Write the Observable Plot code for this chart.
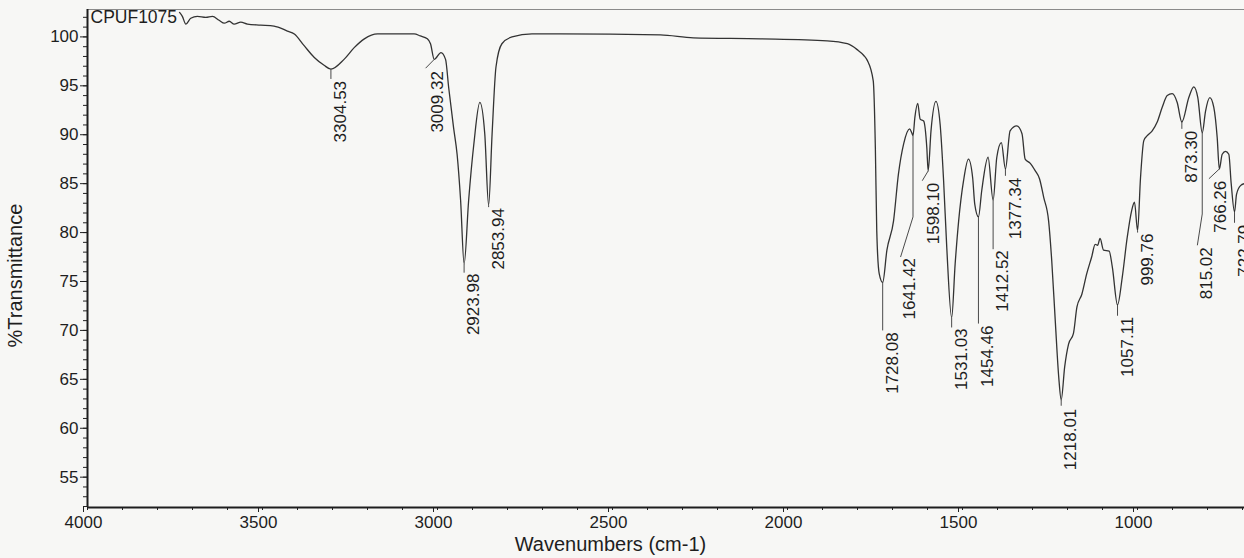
<!DOCTYPE html>
<html><head><meta charset="utf-8">
<script src="https://cdn.jsdelivr.net/npm/d3@7"></script>
<script src="https://cdn.jsdelivr.net/npm/@observablehq/plot@0.6"></script>
<style>
html,body{margin:0;padding:0;background:#f7f7f5;overflow:hidden;}
#chart svg{display:block;overflow:hidden;}
</style></head><body><div id="chart"></div>
<script>
// Spectrum trace: wavenumber (cm-1) and %Transmittance
const wavenumbers = [3737,3729,3719,3705,3686,3662,3643,3624,3609,3595,3581,3562,3543,3505,3467,3429,3409,3381,3352,3324,3304.53,3267,3238,3209,3171,3124,3067,3049,3029,3020,3009.32,2990,2977,2968,2954,2944,2934,2923.98,2911,2896,2879,2865,2853.94,2844,2833,2816,2787,2730,2649,2363,2269,2077,1887,1829,1801,1782,1772,1755,1749,1745,1738,1728.08,1716,1697,1683,1668,1651,1645,1641.42,1636,1628,1621,1611,1602,1598.10,1590,1576,1564,1554,1545,1531.03,1521,1511,1497,1483,1471,1465,1454.46,1445,1427,1412.52,1402,1389,1377.34,1364,1345,1330,1321,1307,1292,1280,1268,1254,1245,1235,1225,1218.01,1208,1197,1183,1173,1159,1145,1131,1121,1114,1107,1097,1081,1072,1057.11,1043.7,1029.4,1017,1008.6,999.76,991.4,982,972.3,958,943.7,929.4,915.1,900.9,886.6,873.30,853.4,839.1,827.7,815.02,805.7,793.4,782,772.3,766.26,758,748.6,739.1,732.3,722.79,717.1,705.7,694.3];
const transmittance = [102.5,102.1,101.3,101.9,102.1,102.0,102.1,101.7,101.4,101.6,101.3,101.5,101.3,101.2,101.1,100.6,100.3,99.1,97.9,97.1,96.7,97.7,98.9,99.8,100.3,100.3,100.3,100.1,99.8,99.3,97.7,98.4,97.7,94.8,90.7,88.0,83.3,76.8,83.3,89.1,93.3,90.1,82.8,90.1,96.9,99.3,100.0,100.3,100.3,100.2,99.9,99.8,99.6,99.3,98.7,98.1,97.6,95.5,88.7,80.2,75.8,74.9,78.2,81.2,86.0,89.1,90.6,90.2,89.9,91.8,93.2,91.6,91.4,88.7,86.3,90.4,93.4,91.1,85.3,78.5,71.3,76.8,81.2,85.3,87.5,85.6,82.9,81.6,84.3,87.7,83.3,87.7,89.2,86.5,90.4,90.9,90.1,87.5,87.1,86.3,85.5,83.6,81.2,77.1,71.0,65.2,62.9,66.3,68.6,69.7,72.4,73.7,75.8,77.5,78.8,78.7,79.4,78.2,78.1,76.5,72.6,75.4,79.5,82.2,83.1,80.2,85.6,89.4,89.9,90.4,91.3,92.8,94.0,94.2,93.3,91.3,93.8,94.9,93.8,90.2,92.4,93.8,92.8,89.7,86.5,88.0,88.3,88.0,85.0,82.1,83.9,84.8,85.0];

// Peak annotations
const peakLabels = ["3304.53","3009.32","2923.98","2853.94","1728.08","1641.42","1598.10","1531.03","1454.46","1412.52","1377.34","1218.01","1057.11","999.76","873.30","815.02","766.26","722.79"];
const peakWn     = [3304.53,3009.32,2923.98,2853.94,1728.08,1641.42,1598.10,1531.03,1454.46,1412.52,1377.34,1218.01,1057.11,999.76,873.30,815.02,766.26,722.79];
const peakT      = [96.7,97.7,76.8,82.8,74.9,89.9,86.3,71.3,81.6,83.3,86.5,62.9,72.6,80.2,91.3,90.2,86.5,82.1];
const bendT      = [95.7,97.7,75.9,82.6,70.0,81.6,86.3,70.3,70.7,78.3,85.8,62.3,71.5,80.0,90.6,81.9,86.5,81.0];
const endWn      = [3304.53,3034,2923.98,2853.94,1728.08,1677,1615,1531.03,1454.46,1412.52,1377.34,1218.01,1057.11,999.76,873.30,829,796,722.79];
const endT       = [95.7,96.8,75.9,82.6,70.0,77.5,85.3,70.3,70.7,78.3,85.8,62.3,71.5,80.0,90.6,78.7,85.5,81.0];
const textWn     = [3295,3020,2915,2845,1719,1669,1601,1522,1446,1404,1368,1209,1048,991,865,822,783,714];
const textT      = [95.5,96.5,75.8,82.5,69.8,77.4,85.1,70.2,70.5,78.2,85.6,62.0,71.4,79.9,90.4,78.5,85.3,80.8];

const yMajor = [55,60,65,70,75,80,85,90,95,100];
const xMajor = [4000,3500,3000,2500,2000,1500,1000];

const spectrum = wavenumbers.map((w, i) => ({w, t: transmittance[i]}));
const peaks = peakLabels.map((label, i) => ({label, w: peakWn[i], t: peakT[i], bt: bendT[i], ew: endWn[i], et: endT[i], tw: textWn[i], tt: textT[i]}));
const segs = peaks.flatMap(p => [
  {x1: p.w, y1: p.t, x2: p.w, y2: p.bt},
  {x1: p.w, y1: p.bt, x2: p.ew, y2: p.et}
]);

const yMin = 51.9, yMax = 102.8;
const font = "Liberation Sans, Arial, sans-serif";

const chart = Plot.plot({
  width: 1244, height: 558,
  marginLeft: 87, marginRight: 0, marginTop: 9, marginBottom: 51,
  style: {background: "transparent", fontFamily: font, fontSize: "17px", color: "#1e1e1e"},
  x: {domain: [4000, 694.3], axis: null},
  y: {domain: [yMin, yMax], axis: null},
  marks: [
    Plot.ruleY([yMax], {stroke: "#8a8a8a", strokeWidth: 1}),
    Plot.axisY({ticks: d3.range(52, 103, 1), tickSize: 4, tickFormat: () => "", label: null, stroke: "#222"}),
    Plot.axisY({ticks: yMajor, tickSize: 7, tickPadding: 2, tickFormat: d3.format("d"), label: null, fontSize: 17, stroke: "#222"}),
    Plot.axisX({ticks: d3.range(4000, 690, -100), tickSize: 3, tickFormat: () => "", label: null, stroke: "#222"}),
    Plot.axisX({ticks: xMajor, tickSize: 5, tickPadding: 3, tickFormat: d3.format("d"), label: null, fontSize: 17, stroke: "#222", dx: -4}),
    Plot.ruleX([4000], {stroke: "#1e1e1e", strokeWidth: 2}),
    Plot.ruleY([yMin], {stroke: "#1e1e1e", strokeWidth: 2}),
    Plot.line(spectrum, {x: "w", y: "t", stroke: "#333", strokeWidth: 1.3, curve: "monotone-x", clip: true}),
    Plot.link(segs, {x1: "x1", y1: "y1", x2: "x2", y2: "y2", stroke: "#4a4a4a", strokeWidth: 1}),
    Plot.text(peaks, {x: "tw", y: "tt", text: "label", rotate: -90, textAnchor: "end", lineAnchor: "top", fontSize: 17, fill: "#1e1e1e"}),
    Plot.text(["CPUF1075"], {frameAnchor: "top-left", dx: 3, dy: 1, lineAnchor: "top", textAnchor: "start", fontSize: 17.5, fill: "#1e1e1e"}),
    Plot.text(["Wavenumbers (cm-1)"], {x: [2506], frameAnchor: "bottom", dy: 37, lineAnchor: "middle", textAnchor: "middle", fontSize: 20, fill: "#1e1e1e"}),
    Plot.text(["%Transmittance"], {y: [75.6], frameAnchor: "left", dx: -72, rotate: -90, lineAnchor: "middle", textAnchor: "middle", fontSize: 20, fill: "#1e1e1e"})
  ]
});
document.getElementById("chart").appendChild(chart);
</script>
</body></html>
